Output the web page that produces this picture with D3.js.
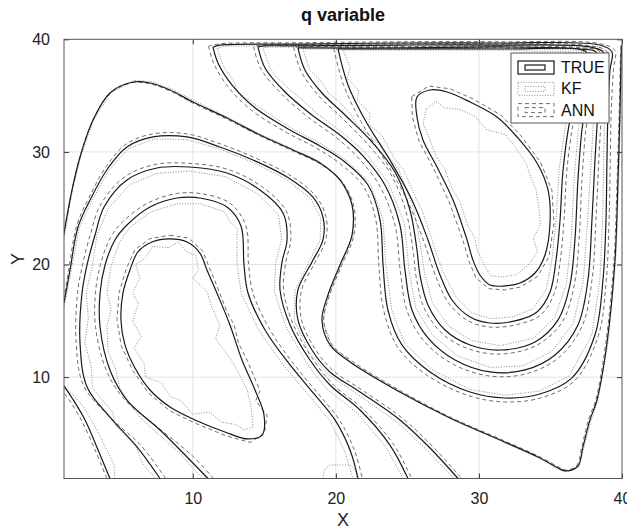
<!DOCTYPE html>
<html><head><meta charset="utf-8">
<script src="https://cdn.jsdelivr.net/npm/d3@7"></script>
<style>body{margin:0;background:#fff}</style>
</head><body>
<svg id="chart" width="627" height="531"></svg>
<script>
const titleText = "q variable";
const xTicks = [10, 20, 30, 40];
const yTicks = [10, 20, 30, 40];
const legendNames = ["TRUE", "KF", "ANN"];

// ---- TRUE contour lines, [X, Y] in data units ----
const trueL1 = [[8.41,22.27],[9.60,22.0],[10.5,21.02],[10.99,19.52],[11.69,17.47],[12.6,14.63],[13.44,11.52],[14.35,8.86],[14.98,6.64],[14.84,4.86],[13.86,4.51],[12.25,5.13],[10.16,6.2],[8.41,7.35],[7.01,8.86],[5.96,10.81],[5.26,12.86],[4.98,15.08],[5.12,17.47],[5.61,19.52],[6.17,21.12],[7.15,22.0]];
const trueL2 = [[11.06,1.0],[9.6,2.91],[7.71,5.31],[5.4,7.97],[4.21,10.64],[3.52,14.45],[3.52,17.47],[3.87,19.96],[4.56,22.18],[5.4,23.51],[7.01,25.11],[8.9,25.91],[10.5,25.91],[12.39,25.11],[13.37,23.42],[13.58,19.96],[13.86,17.47],[15.05,14.19],[16.8,11.08],[18.54,8.42],[19.94,6.2],[20.99,3.53],[21.55,1.0]];
const trueL3 = [[7.71,1.0],[6.1,3.8],[4.21,6.46],[2.61,9.13],[2.12,13.03],[2.26,17.47],[2.61,19.96],[3.17,22.62],[3.8,25.11],[5.4,27.51],[7.5,28.57],[9.81,28.66],[12.39,28.13],[14.7,26.62],[16.31,24.58],[16.59,22.18],[16.24,20.23],[16.1,17.74],[16.8,14.63],[18.19,11.52],[19.59,9.3],[21.69,7.08],[23.78,3.97],[25.04,1.0]];
const trueL4 = [[1.0,16.59],[1.42,19.52],[1.98,23.33],[2.82,25.73],[4.08,28.57],[5.4,30.44],[7.22,31.33],[9.6,31.33],[11.9,30.44],[14.21,29.28],[16.59,27.77],[18.4,25.98],[19.1,24.22],[19.1,22.18],[18.33,20.23],[17.35,17.74],[17.35,15.08],[18.33,12.41],[19.59,10.46],[21.69,8.68],[24.48,6.2],[26.58,3.71],[28.54,1.0]];
const trueB1 = [[4.21,1.0],[3.38,3.53],[2.47,6.2],[1.56,8.15],[1.0,9.22]];
const trueA = [[1.0,22.8],[1.56,26.62],[2.12,29.55],[3.03,32.83],[4.21,35.23],[5.82,36.21],[7.01,36.12],[8.41,35.5],[10.02,34.43],[12.39,33.01],[14.7,31.5],[17.0,30.17],[18.89,29.02],[20.29,27.51],[21.13,25.29],[21.13,22.62],[20.29,19.96],[19.45,17.3],[19.03,15.08],[19.59,12.86],[20.99,11.35],[24.48,8.68],[27.98,6.37],[31.47,4.42],[34.27,2.82],[35.53,1.93],[36.08,1.67],[36.92,2.11],[37.27,3.8],[37.76,6.2],[38.25,7.97],[38.95,13.03],[39.51,20.4],[39.72,27.51],[39.86,33.72],[39.93,38.16],[39.96,39.49]];
const trueC1 = [[11.41,39.32],[11.76,37.9],[12.75,35.94],[14.37,33.9],[16.8,31.95],[18.89,30.53],[20.64,29.1],[22.25,27.06],[23.09,23.95],[23.3,19.96],[23.64,15.96],[24.62,12.86],[26.58,10.46],[29.38,8.68],[31.82,8.15],[34.27,8.5],[36.5,9.93],[38.11,13.74],[38.67,18.63],[38.88,23.95],[38.95,29.28],[39.02,33.72],[39.16,37.27],[39.3,38.87],[38.46,39.49],[31.47,39.67],[24.48,39.67],[17.49,39.58],[11.9,39.49],[11.41,39.32]];
const trueC2 = [[14.56,39.32],[15.05,37.45],[16.45,35.32],[18.33,33.28],[20.29,31.5],[21.83,29.73],[23.43,27.06],[24.48,23.51],[24.83,19.52],[25.32,15.96],[26.44,13.48],[28.33,11.52],[30.77,10.46],[33.22,10.64],[35.32,11.97],[36.92,14.63],[37.62,18.63],[37.9,23.95],[38.11,29.28],[38.32,33.72],[38.53,37.27],[38.74,38.78],[37.76,39.32],[31.47,39.49],[24.48,39.49],[17.49,39.41],[15.05,39.41],[14.56,39.32]];
const trueC3 = [[17.35,39.23],[17.84,37.27],[19.03,35.23],[20.64,33.28],[22.53,30.88],[24.13,28.22],[25.18,24.84],[25.67,21.29],[25.88,19.07],[26.44,16.41],[27.63,14.19],[29.38,12.86],[31.47,12.41],[33.92,13.12],[35.53,15.08],[36.36,18.18],[36.71,22.18],[36.92,27.51],[37.2,31.95],[37.62,35.5],[38.04,37.98],[38.18,38.87],[37.06,39.14],[31.47,39.32],[24.48,39.23],[17.84,39.23],[17.35,39.23]];
const trueC4 = [[20.15,39.14],[20.85,35.94],[22.04,32.83],[23.78,29.28],[25.32,25.73],[26.44,22.18],[27.28,19.07],[28.12,16.85],[29.38,15.34],[30.77,14.81],[32.52,14.99],[34.06,15.79],[34.97,17.56],[35.39,20.4],[35.67,23.95],[35.88,28.4],[36.36,32.83],[37.06,36.39],[37.62,38.52],[37.41,38.96],[31.47,39.14],[24.48,39.14],[20.64,39.14],[20.15,39.14]];
const trueR1 = [[25.67,34.88],[26.58,35.5],[27.77,35.32],[29.38,34.43],[31.26,33.1],[32.66,31.33],[34.06,29.02],[34.83,26.62],[34.97,23.69],[34.62,20.85],[33.92,19.25],[32.87,18.36],[31.82,18.1],[30.77,18.18],[30.07,19.07],[29.58,20.4],[29.17,22.18],[28.19,25.73],[27.07,28.66],[26.09,31.06],[25.67,33.1]];

// ---- KF contour lines ----
const kfA = [[1.0,22.3],[1.6,26.7],[2.2,29.7],[3.1,32.9],[4.3,35.3],[5.9,36.35],[7.1,36.25],[8.5,35.6],[10.1,34.55],[12.4,33.1],[14.7,31.6],[17.0,30.25],[18.9,29.1],[20.3,27.6],[21.2,25.3],[21.2,22.6],[20.4,20.0],[19.5,17.3],[19.1,15.0],[19.7,12.8],[21.1,11.3],[24.5,8.6],[28.0,6.3],[31.5,4.35],[34.3,2.75],[35.5,1.85],[36.1,1.6],[37.0,2.05],[37.35,3.8],[37.85,6.2],[38.33,8.0],[39.02,13.0],[39.57,20.4],[39.77,27.5],[39.9,33.7],[39.96,38.2],[39.98,39.5]];
const kfL4 = [[1.0,16.2],[1.5,19.4],[2.05,23.2],[2.9,25.55],[4.15,28.4],[5.45,30.25],[7.25,31.15],[9.6,31.1],[11.9,30.25],[14.15,29.1],[16.5,27.6],[18.25,25.85],[18.95,24.1],[18.9,22.15],[18.1,20.2],[17.15,17.7],[17.1,15.0],[18.1,12.3],[19.4,10.3],[21.5,8.5],[24.3,6.0],[26.3,3.6],[28.25,1.0]];
const kfL3 = [[7.4,1.0],[6.5,2.3],[6.0,3.9],[4.6,5.7],[4.4,6.9],[3.0,9.0],[2.9,11.0],[2.45,13.1],[2.7,15.2],[2.55,17.5],[3.0,20.0],[3.3,22.6],[4.1,25.0],[5.6,27.1],[7.5,28.1],[9.8,28.3],[12.3,27.8],[14.5,26.3],[16.0,24.4],[16.2,22.2],[15.8,20.2],[15.7,17.6],[16.5,14.5],[17.9,11.4],[18.5,10.3],[19.4,8.9],[21.5,6.8],[23.5,3.8],[24.7,1.0]];
const kfL2 = [[10.7,1.0],[9.9,2.1],[9.2,3.1],[7.9,4.6],[6.4,6.3],[5.6,7.6],[4.9,9.0],[4.6,10.8],[4.1,12.2],[4.0,14.5],[4.3,16.0],[4.0,17.5],[4.3,19.9],[4.9,22.0],[5.6,23.3],[7.1,24.7],[8.9,25.4],[10.5,25.4],[12.2,24.7],[12.6,23.8],[13.1,23.2],[13.1,20.0],[13.4,17.4],[14.6,14.2],[16.3,11.1],[18.1,8.4],[19.6,6.1],[20.6,3.5],[21.2,1.0]];
const kfCap = [[19.1,1.0],[19.2,1.8],[19.6,2.2],[21.0,2.2],[21.4,1.6],[21.5,1.0]];
const kfB1 = [[4.55,1.0],[4.5,2.2],[3.7,4.3],[3.0,6.0],[2.4,7.3],[1.6,8.5],[1.0,9.0]];
const kfC1 = [[11.7,39.2],[12.1,37.7],[12.9,36.2],[13.2,35.2],[14.6,34.0],[16.9,32.1],[19.0,30.7],[20.8,29.2],[22.4,27.2],[23.3,24.0],[23.5,20.0],[23.9,16.0],[24.8,13.0],[26.7,10.7],[29.4,8.9],[31.8,8.4],[34.2,8.75],[36.3,10.1],[37.9,13.8],[38.45,18.6],[38.65,24.0],[38.72,29.3],[38.8,33.7],[38.95,37.2],[39.1,38.75],[38.4,39.35],[31.5,39.55],[24.5,39.55],[17.5,39.47],[12.2,39.38],[11.7,39.2]];
const kfC2 = [[14.9,39.25],[15.4,37.4],[15.9,36.6],[16.8,35.5],[17.6,34.7],[18.6,33.5],[20.5,31.7],[22.1,29.9],[23.7,27.2],[24.8,23.6],[25.1,19.6],[25.6,16.1],[26.7,13.8],[28.5,11.9],[30.8,10.85],[33.1,11.0],[35.1,12.3],[36.6,14.8],[37.3,18.6],[37.6,24.0],[37.85,29.3],[38.05,33.7],[38.3,37.2],[38.5,38.65],[37.7,39.2],[31.5,39.38],[24.5,39.38],[17.5,39.3],[15.3,39.3],[14.9,39.25]];
const kfC3 = [[17.7,39.15],[18.2,37.2],[18.9,36.4],[19.5,35.2],[20.2,34.5],[21.0,33.4],[21.6,32.2],[22.8,31.0],[24.4,28.4],[25.45,25.0],[25.95,21.4],[26.2,19.2],[26.75,16.6],[27.9,14.5],[29.5,13.25],[31.5,12.8],[33.8,13.45],[35.3,15.3],[36.1,18.2],[36.45,22.2],[36.65,27.5],[36.95,32.0],[37.35,35.5],[37.8,37.9],[37.95,38.75],[37.0,39.04],[31.5,39.22],[24.5,39.13],[18.0,39.13],[17.7,39.15]];
const kfC4 = [[20.5,39.05],[21.0,37.5],[20.8,36.5],[21.6,35.5],[21.5,34.6],[22.4,33.4],[22.3,32.4],[23.2,31.5],[24.1,29.4],[24.7,28.5],[25.6,25.9],[26.1,24.6],[26.7,22.3],[27.0,21.0],[27.55,19.2],[28.4,17.1],[29.5,15.7],[30.8,15.2],[32.4,15.35],[33.8,16.1],[34.7,17.8],[35.1,20.4],[35.4,24.0],[35.6,28.4],[36.1,32.8],[36.8,36.3],[37.35,38.4],[37.3,38.85],[31.5,39.04],[24.5,39.04],[20.7,39.04],[20.5,39.05]];
const kfL1 = [[8.3,21.5],[9.0,22.0],[9.5,21.2],[10.2,20.8],[10.4,19.5],[10.0,18.8],[11.0,17.6],[11.3,16.3],[11.9,14.6],[11.6,13.4],[12.7,11.5],[13.2,10.4],[13.8,8.9],[14.1,7.2],[14.2,5.6],[13.6,5.3],[13.0,5.8],[12.0,6.0],[11.2,6.9],[10.0,6.7],[9.2,7.9],[8.4,8.3],[7.8,9.5],[6.7,10.0],[6.6,11.2],[5.9,12.6],[6.4,13.6],[5.8,15.0],[6.2,16.5],[5.8,17.5],[6.3,18.8],[6.0,20.0],[6.7,20.6],[7.2,21.6]];
const kfR1 = [[26.3,33.8],[27.0,34.5],[27.6,33.9],[28.6,33.8],[29.8,33.1],[30.5,32.0],[31.9,31.5],[32.6,30.3],[33.3,29.0],[33.6,27.8],[34.0,26.6],[34.2,24.9],[34.3,23.6],[33.8,22.3],[34.1,21.1],[33.4,19.9],[32.6,19.1],[31.7,18.9],[30.8,19.0],[30.4,19.9],[29.9,21.2],[29.7,22.4],[29.2,23.5],[28.7,25.5],[28.1,26.8],[27.6,28.5],[27.0,29.6],[26.6,31.0],[26.1,32.5]];

// ---- ANN contour lines ----
const annA = [[1.0,22.6],[1.55,26.5],[2.1,29.5],[3.0,32.75],[4.2,35.15],[5.8,36.15],[7.0,36.05],[8.4,35.42],[10.0,34.35],[12.4,32.9],[14.75,31.4],[17.05,30.05],[18.95,28.9],[20.4,27.4],[21.25,25.2],[21.25,22.55],[20.4,19.9],[19.55,17.25],[19.15,15.1],[19.7,12.95],[21.1,11.45],[24.5,8.8],[28.0,6.45],[31.5,4.5],[34.3,2.9],[35.6,2.0],[36.1,1.75],[36.85,2.2],[37.2,3.9],[37.68,6.3],[38.17,8.0],[38.87,13.05],[39.44,20.4],[39.66,27.5],[39.81,33.7],[39.89,38.2],[39.93,39.5]];
const annL4 = [[1.0,16.9],[1.35,19.7],[1.9,23.5],[2.75,25.95],[4.0,28.8],[5.35,30.7],[7.2,31.6],[9.6,31.6],[11.95,30.7],[14.3,29.5],[16.7,28.0],[18.55,26.15],[19.3,24.3],[19.3,22.2],[18.55,20.2],[17.6,17.7],[17.6,15.1],[18.55,12.5],[19.8,10.6],[21.9,8.8],[24.7,6.3],[26.8,3.8],[28.8,1.0]];
const annL3 = [[8.1,1.0],[6.4,3.9],[4.0,6.7],[2.35,9.3],[1.85,13.0],[1.95,17.5],[2.3,20.0],[2.85,22.7],[3.55,25.3],[5.25,27.8],[7.45,28.9],[9.8,28.98],[12.45,28.45],[14.85,26.9],[16.55,24.7],[16.85,22.2],[16.5,20.2],[16.35,17.7],[17.05,14.6],[18.45,11.5],[19.85,9.3],[21.95,7.1],[24.05,4.0],[25.3,1.0]];
const annL2 = [[11.45,1.0],[9.9,3.1],[7.5,5.6],[5.1,8.2],[3.9,10.8],[3.2,14.5],[3.2,17.5],[3.55,20.0],[4.25,22.4],[5.15,23.85],[6.85,25.45],[8.85,26.3],[10.55,26.3],[12.6,25.45],[13.7,23.5],[13.9,20.0],[14.2,17.5],[15.4,14.2],[17.1,11.1],[18.85,8.4],[20.25,6.2],[21.3,3.5],[21.85,1.0]];
const annB1 = [[4.0,1.0],[3.15,3.6],[2.25,6.1],[1.45,7.8],[1.0,8.6]];
const annC1 = [[11.1,39.4],[11.45,37.9],[12.45,35.8],[14.1,33.7],[16.6,31.7],[18.7,30.3],[20.4,28.85],[21.95,26.9],[22.8,23.9],[23.0,20.0],[23.35,15.9],[24.35,12.6],[26.4,10.15],[29.3,8.35],[31.8,7.8],[34.3,8.15],[36.7,9.7],[38.35,13.7],[38.9,18.6],[39.1,24.0],[39.18,29.3],[39.25,33.7],[39.4,37.3],[39.5,39.0],[38.5,39.6],[31.5,39.78],[24.5,39.78],[17.5,39.7],[11.9,39.6],[11.1,39.4]];
const annC2 = [[14.25,39.35],[14.75,37.4],[16.2,35.15],[18.1,33.05],[20.05,31.25],[21.55,29.5],[23.1,26.9],[24.15,23.4],[24.5,19.5],[25.0,15.8],[26.2,13.15],[28.2,11.15],[30.75,10.1],[33.3,10.3],[35.55,11.7],[37.2,14.5],[37.9,18.6],[38.18,24.0],[38.38,29.3],[38.58,33.7],[38.78,37.3],[38.95,38.9],[37.8,39.42],[31.5,39.6],[24.5,39.6],[17.5,39.52],[15.0,39.52],[14.25,39.35]];
const annC3 = [[17.05,39.3],[17.55,37.2],[18.75,35.05],[20.4,33.05],[22.25,30.65],[23.85,28.0],[24.9,24.7],[25.4,21.2],[25.6,19.0],[26.15,16.2],[27.45,13.85],[29.3,12.5],[31.5,12.05],[34.0,12.8],[35.8,14.85],[36.65,18.1],[37.0,22.2],[37.2,27.5],[37.48,32.0],[37.9,35.5],[38.3,38.0],[38.4,38.95],[37.1,39.25],[31.5,39.42],[24.5,39.34],[17.8,39.34],[17.05,39.3]];
const annC4 = [[19.85,39.2],[20.55,35.9],[21.75,32.7],[23.5,29.1],[25.05,25.55],[26.15,22.05],[27.0,18.9],[27.9,16.55],[29.25,15.0],[30.75,14.45],[32.6,14.65],[34.3,15.5],[35.25,17.4],[35.68,20.3],[35.95,24.0],[36.15,28.4],[36.62,32.8],[37.3,36.4],[37.85,38.6],[37.5,39.05],[31.5,39.24],[24.5,39.24],[20.6,39.24],[19.85,39.2]];
const annL1 = [[8.4,22.6],[9.7,22.35],[10.7,21.2],[11.2,19.6],[11.5,18.7],[11.9,17.4],[12.4,15.8],[12.9,14.6],[13.2,13.0],[13.8,11.5],[14.2,10.3],[14.7,8.8],[14.4,7.9],[15.2,6.6],[15.0,5.0],[14.0,4.2],[12.3,4.8],[10.2,5.9],[8.4,7.0],[6.9,8.6],[5.8,10.6],[5.0,12.8],[4.7,15.1],[4.85,17.5],[5.35,19.6],[5.95,21.3],[7.0,22.3]];
const annR1 = [[25.3,34.9],[26.5,35.85],[28.0,35.6],[29.6,34.7],[31.5,33.3],[32.9,31.5],[34.3,29.1],[35.1,26.6],[35.25,23.7],[34.9,20.7],[34.1,18.95],[32.9,18.0],[31.8,17.75],[30.7,17.85],[29.8,18.8],[29.3,20.3],[28.9,22.1],[27.9,25.6],[26.8,28.6],[25.8,31.0],[25.35,33.1]];

const trueOpen = [trueL2, trueL3, trueL4, trueB1, trueA, trueC1, trueC2, trueC3, trueC4];
const trueClosed = [trueL1, trueR1];
const kfOpen = [kfA, kfL4, kfL3, kfL2, kfCap, kfB1, kfC1, kfC2, kfC3, kfC4];
const kfClosed = [kfL1, kfR1];
const annOpen = [annA, annL4, annL3, annL2, annB1, annC1, annC2, annC3, annC4];
const annClosed = [annL1, annR1];

const svg = d3.select("#chart");
const x = d3.scaleLinear().domain([1, 40]).range([64, 622]);
const y = d3.scaleLinear().domain([1, 40]).range([478.5, 39.3]);
const font = "'Liberation Sans', Arial, Helvetica, sans-serif";

svg.append("defs").append("clipPath").attr("id", "clip")
  .append("rect").attr("x", x(1)).attr("y", y(40)).attr("width", x(40) - x(1)).attr("height", y(1) - y(40));

// grid
const grid = svg.append("g").attr("stroke", "#e3e3e3").attr("stroke-width", 1);
xTicks.filter(t => t < 40).forEach(t => grid.append("line").attr("x1", x(t)).attr("x2", x(t)).attr("y1", y(1)).attr("y2", y(40)));
yTicks.filter(t => t < 40).forEach(t => grid.append("line").attr("y1", y(t)).attr("y2", y(t)).attr("x1", x(1)).attr("x2", x(40)));

// contours
const plot = svg.append("g").attr("clip-path", "url(#clip)");
const smoothOpen = d3.line().x(d => x(d[0])).y(d => y(d[1])).curve(d3.curveCatmullRom.alpha(0.5));
const smoothClosed = d3.line().x(d => x(d[0])).y(d => y(d[1])).curve(d3.curveCatmullRomClosed.alpha(0.5));
const jagOpen = d3.line().x(d => x(d[0])).y(d => y(d[1])).curve(d3.curveLinear);
const jagClosed = d3.line().x(d => x(d[0])).y(d => y(d[1])).curve(d3.curveLinearClosed);

function draw(cls, data, gen, stroke, width, dash) {
  plot.selectAll("path." + cls).data(data).join("path").attr("class", cls)
    .attr("d", gen).attr("fill", "none").attr("stroke", stroke)
    .attr("stroke-width", width).attr("stroke-dasharray", dash);
}
draw("kfo", kfOpen, jagOpen, "#8a8a8a", 1, "1,1.6");
draw("kfc", kfClosed, jagClosed, "#8a8a8a", 1, "1,1.6");
draw("anno", annOpen, smoothOpen, "#6e6e6e", 1, "4,3");
draw("annc", annClosed, jagClosed, "#6e6e6e", 1, "4,3");
draw("trueo", trueOpen, smoothOpen, "#1a1a1a", 1.2, null);
draw("truec", trueClosed, smoothClosed, "#1a1a1a", 1.2, null);

// axes (inward ticks)
const axB = d3.axisBottom(x).tickValues(xTicks).tickSize(-5).tickPadding(14);
const axL = d3.axisLeft(y).tickValues(yTicks).tickSize(-5).tickPadding(14);
const axT = d3.axisTop(x).tickValues(xTicks).tickSize(-5).tickFormat("");
const axR = d3.axisRight(y).tickValues(yTicks).tickSize(-5).tickFormat("");
function style(g) {
  g.select(".domain").remove();
  g.selectAll(".tick line").attr("stroke", "#333");
  g.selectAll("text").attr("font-family", font).attr("font-size", 16).attr("fill", "#222");
}
svg.append("g").attr("transform", `translate(0,${y(1)})`).call(axB).call(style);
svg.append("g").attr("transform", `translate(${x(1)},0)`).call(axL).call(style);
svg.append("g").attr("transform", `translate(0,${y(40)})`).call(axT).call(style);
svg.append("g").attr("transform", `translate(${x(40)},0)`).call(axR).call(style);

svg.append("rect").attr("x", x(1)).attr("y", y(40)).attr("width", x(40) - x(1)).attr("height", y(1) - y(40))
  .attr("fill", "none").attr("stroke", "#555").attr("stroke-width", 1);

// labels
svg.append("text").attr("x", 343).attr("y", 21).attr("text-anchor", "middle")
  .attr("font-family", font).attr("font-size", 18).attr("font-weight", "bold").attr("fill", "#111").text(titleText);
svg.append("text").attr("x", 343).attr("y", 526).attr("text-anchor", "middle")
  .attr("font-family", font).attr("font-size", 18).attr("fill", "#222").text("X");
svg.append("text").attr("transform", "translate(24,259) rotate(-90)").attr("text-anchor", "middle")
  .attr("font-family", font).attr("font-size", 18).attr("fill", "#222").text("Y");

// legend
const lg = svg.append("g");
lg.append("rect").attr("x", 511).attr("y", 53).attr("width", 98).attr("height", 70)
  .attr("fill", "#fff").attr("stroke", "#555").attr("stroke-width", 1);
const lstyles = [
  {stroke: "#1a1a1a", dash: null, w: 1.2},
  {stroke: "#8a8a8a", dash: "1,1.6", w: 1},
  {stroke: "#6e6e6e", dash: "4,3", w: 1}
];
legendNames.forEach((n, i) => {
  const cy = 67.5 + i * 21.3;
  const s = lstyles[i];
  lg.append("rect").attr("x", 518).attr("y", cy - 6.5).attr("width", 36).attr("height", 13)
    .attr("fill", "none").attr("stroke", s.stroke).attr("stroke-width", s.w).attr("stroke-dasharray", s.dash);
  lg.append("rect").attr("x", 525).attr("y", cy - 2.5).attr("width", 20).attr("height", 5)
    .attr("fill", "none").attr("stroke", s.stroke).attr("stroke-width", s.w).attr("stroke-dasharray", s.dash);
  lg.append("text").attr("x", 561).attr("y", cy + 5.5).attr("font-family", font).attr("font-size", 16)
    .attr("fill", "#111").text(n);
});
</script>
</body></html>
